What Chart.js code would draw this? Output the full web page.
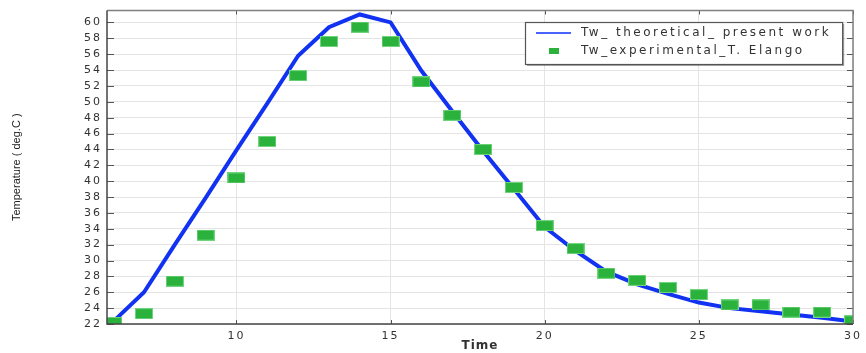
<!DOCTYPE html>
<html>
<head>
<meta charset="utf-8">
<script src="https://cdn.jsdelivr.net/npm/chart.js@4.4.1/dist/chart.umd.min.js"></script>
<style>
  html, body { margin: 0; padding: 0; background: #ffffff; }
  #wrap { width: 866px; height: 353px; }
</style>
</head>
<body>
<div id="wrap"><canvas id="c" width="866" height="353"></canvas></div>
<script>
// ---- data ----
const timeValues = [6, 7, 8, 9, 10, 11, 12, 13, 14, 15, 16, 17, 18, 19, 20, 21, 22, 23, 24, 25, 26, 27, 28, 29, 30];
const theoreticalValues = [22.3, 26.0, 32.0, 37.9, 43.9, 49.8, 55.8, 59.4, 61.0, 60.0, 53.9, 48.8, 43.8, 39.0, 34.2, 31.2, 28.6, 27.0, 25.8, 24.7, 24.0, 23.6, 23.2, 22.8, 22.3];
const experimentalValues = [22.2, 23.3, 27.4, 33.2, 40.4, 45.0, 53.3, 57.6, 59.4, 57.6, 52.5, 48.3, 44.0, 39.2, 34.4, 31.5, 28.4, 27.5, 26.6, 25.7, 24.4, 24.4, 23.5, 23.5, 22.4];
const xTickValues = [10, 15, 20, 25, 30];
const yTickValues = [22, 24, 26, 28, 30, 32, 34, 36, 38, 40, 42, 44, 46, 48, 50, 52, 54, 56, 58, 60];
const seriesLabels = ['Tw_ theoretical_ present work', 'Tw_experimental_T. Elango'];
const axisTitles = { x: 'Time', y: 'Temperature ( deg.C )' };

const BLUE = '#1232f2';
const GREEN = '#2ab23d';

// rectangular marker image
const marker = document.createElement('canvas');
marker.width = 18; marker.height = 11;
(function(){
  const m = marker.getContext('2d');
  m.fillStyle = '#6fd47c';
  m.fillRect(0, 0, 18, 11);
  m.fillStyle = GREEN;
  m.fillRect(1, 1, 16, 9);
})();

const toPoints = (ys) => timeValues.map((x, i) => ({ x: x, y: ys[i] }));

const spacingPlugin = {
  id: 'spacing',
  beforeDraw(chart) {
    Object.values(chart.scales).forEach(s => {
      if (s._spaced) return;
      s._spaced = true;
      const dl = s.drawLabels;
      s.drawLabels = function(a) {
        const c = this.ctx; c.save(); c.letterSpacing = '2px'; dl.call(this, a); c.restore();
      };
      if (s.id === 'x') {
        const dt = s.drawTitle;
        s.drawTitle = function() {
          const c = this.ctx; c.save(); c.letterSpacing = '1px'; dt.call(this); c.restore();
        };
      }
    });
  }
};

const framePlugin = {
  id: 'frame',
  afterDatasetsDraw(chart) {
    const { ctx, chartArea: a, scales } = chart;
    ctx.save();
    ctx.strokeStyle = '#555';
    ctx.lineWidth = 1;
    yTickValues.forEach(v => {
      const y = Math.round(scales.y.getPixelForValue(v)) + 0.5;
      ctx.beginPath(); ctx.moveTo(a.left, y); ctx.lineTo(a.left + 7, y); ctx.stroke();
      ctx.beginPath(); ctx.moveTo(a.right - 6, y); ctx.lineTo(a.right, y); ctx.stroke();
    });
    xTickValues.forEach(v => {
      const x = Math.round(scales.x.getPixelForValue(v)) + 0.5;
      ctx.beginPath(); ctx.moveTo(x, a.top); ctx.lineTo(x, a.top + 4); ctx.stroke();
      ctx.beginPath(); ctx.moveTo(x, a.bottom - 4); ctx.lineTo(x, a.bottom); ctx.stroke();
    });
    ctx.lineWidth = 1.5;
    ctx.strokeStyle = '#808080';
    ctx.beginPath(); ctx.moveTo(a.left, a.top); ctx.lineTo(a.right, a.top); ctx.lineTo(a.right, a.bottom); ctx.stroke();
    ctx.strokeStyle = '#444';
    ctx.beginPath(); ctx.moveTo(a.left, a.top); ctx.lineTo(a.left, a.bottom); ctx.lineTo(a.right, a.bottom); ctx.stroke();
    ctx.restore();
  }
};

const legendPlugin = {
  id: 'boxLegend',
  afterDraw(chart) {
    const { ctx, chartArea: a } = chart;
    const ds = chart.data.datasets;
    ctx.save();
    ctx.font = '12px "DejaVu Sans"';
    ctx.letterSpacing = '2.5px';
    const textW = Math.max(...ds.map(d => ctx.measureText(d.label).width));
    const w = 56 + textW + 11;
    const h = 42;
    const x0 = Math.round(a.right - 11 - w);
    const y0 = Math.round(a.top + 11);
    ctx.fillStyle = 'rgba(0,0,0,0.35)';
    ctx.fillRect(x0 + 2, y0 + 2, w, h);
    ctx.fillStyle = '#fff';
    ctx.fillRect(x0, y0, w, h);
    ctx.strokeStyle = '#555';
    ctx.lineWidth = 1.2;
    ctx.strokeRect(x0 + 0.5, y0 + 0.5, w, h);
    ctx.strokeStyle = '#4a64ff';
    ctx.lineWidth = 2;
    ctx.beginPath(); ctx.moveTo(x0 + 11, y0 + 11); ctx.lineTo(x0 + 46, y0 + 11); ctx.stroke();
    ctx.fillStyle = GREEN;
    ctx.fillRect(x0 + 24, y0 + 26, 10, 6);
    ctx.fillStyle = '#333';
    ctx.textBaseline = 'middle';
    ctx.textAlign = 'left';
    ctx.fillText(ds[0].label, x0 + 56, y0 + 11);
    ctx.fillText(ds[1].label, x0 + 56, y0 + 29);
    ctx.restore();
  }
};

new Chart(document.getElementById('c'), {
  type: 'scatter',
  data: {
    datasets: [
      {
        label: seriesLabels[0],
        data: toPoints(theoreticalValues),
        showLine: true,
        borderColor: BLUE,
        backgroundColor: BLUE,
        borderWidth: 4,
        pointRadius: 0,
        tension: 0,
        clip: 0,
        order: 2
      },
      {
        label: seriesLabels[1],
        data: toPoints(experimentalValues),
        showLine: false,
        pointStyle: marker,
        pointRadius: 9,
        clip: 0,
        order: 1
      }
    ]
  },
  options: {
    responsive: false,
    animation: false,
    events: [],
    layout: { padding: { top: 10, right: 8, bottom: 0, left: 0 } },
    plugins: { legend: { display: false }, tooltip: { enabled: false } },
    scales: {
      x: {
        type: 'linear',
        min: 5.8,
        max: 30,
        afterBuildTicks: (s) => { s.ticks = xTickValues.map(v => ({ value: v })); },
        afterFit: (s) => { s.height = 29; },
        grid: { color: '#e4e4e4', lineWidth: 1, drawTicks: false },
        border: { display: false },
        ticks: {
          padding: 6,
          autoSkip: false,
          color: '#333',
          font: { family: 'DejaVu Sans', size: 11 },
          maxRotation: 0,
          callback: (v) => String(v)
        },
        title: {
          display: true,
          text: axisTitles.x,
          color: '#333',
          font: { family: 'DejaVu Sans', size: 12, weight: 'bold' },
          padding: { top: 0, bottom: 0 }
        }
      },
      y: {
        type: 'linear',
        min: 22,
        max: 61.5,
        afterBuildTicks: (s) => { s.ticks = yTickValues.map(v => ({ value: v })); },
        afterFit: (s) => { s.width = 107; },
        grid: { color: '#e4e4e4', lineWidth: 1, drawTicks: false },
        border: { display: false },
        ticks: {
          padding: 5,
          autoSkip: false,
          color: '#333',
          font: { family: 'DejaVu Sans', size: 11, lineHeight: 1 },
          callback: (v) => String(v)
        },
        title: {
          display: true,
          text: axisTitles.y,
          color: '#222',
          font: { family: 'Liberation Sans', size: 11 },
          padding: { top: 10, bottom: 50 }
        }
      }
    }
  },
  plugins: [spacingPlugin, framePlugin, legendPlugin]
});
</script>
</body>
</html>
